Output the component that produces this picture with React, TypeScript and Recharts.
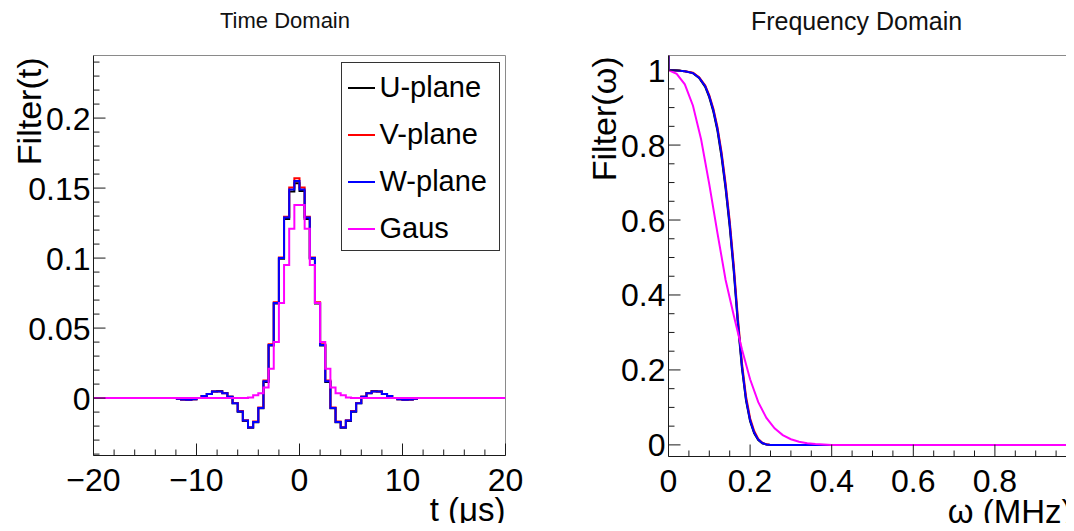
import React from "react";
import { LineChart, Line, XAxis, YAxis, ReferenceLine, Legend } from "recharts";

const FONT = '"Liberation Sans", Arial, Helvetica, sans-serif';

// ---- time domain: 0.5 us bins, value per bin (first bin starts at -12 us)
const tFirstEdge = -12;
const tBinWidth = 0.5;

const uPlaneTime = [
  -0.0005, -0.001, -0.0012, -0.0008, 0.0, 0.0015, 0.003, 0.0048, 0.005, 0.0036,
  0.001, -0.0037, -0.0097, -0.0163, -0.0212, -0.0172, -0.0072, 0.0115, 0.0375, 0.0675,
  0.0995, 0.128, 0.1475, 0.1535, 0.148, 0.128, 0.0995, 0.0675, 0.0375, 0.0115,
  -0.0072, -0.0172, -0.0212, -0.0163, -0.0097, -0.0037, 0.001, 0.0036, 0.005, 0.0048,
  0.003, 0.0015, 0.0, -0.0008, -0.0012, -0.001, -0.0005,
];
const vPlaneTime = [
  -0.0005, -0.001, -0.0012, -0.0008, 0.0, 0.0015, 0.003, 0.0048, 0.0048, 0.0035,
  0.001, -0.0035, -0.0093, -0.0158, -0.0208, -0.0168, -0.0068, 0.0125, 0.0385, 0.0685,
  0.1005, 0.1295, 0.1505, 0.157, 0.1505, 0.1295, 0.1005, 0.0685, 0.0385, 0.0125,
  -0.0068, -0.0168, -0.0208, -0.0158, -0.0093, -0.0035, 0.001, 0.0035, 0.0048, 0.0048,
  0.003, 0.0015, 0.0, -0.0008, -0.0012, -0.001, -0.0005,
];
const wPlaneTime = [
  -0.0005, -0.001, -0.0012, -0.0008, 0.0, 0.0015, 0.003, 0.0048, 0.0048, 0.0035,
  0.001, -0.0036, -0.0095, -0.016, -0.021, -0.017, -0.007, 0.012, 0.038, 0.068,
  0.1, 0.129, 0.149, 0.155, 0.149, 0.129, 0.1, 0.068, 0.038, 0.012,
  -0.007, -0.017, -0.021, -0.016, -0.0095, -0.0036, 0.001, 0.0035, 0.0048, 0.0048,
  0.003, 0.0015, 0.0, -0.0008, -0.0012, -0.001, -0.0005,
];
// gaussian filter, non-zero bins from -5 us to 5 us
const gausFirstEdge = -5;
const gausTime = [
  0.0005, 0.002, 0.0035, 0.0075, 0.021, 0.04, 0.068, 0.095, 0.121, 0.138,
  0.138, 0.121, 0.095, 0.068, 0.04, 0.021, 0.0075, 0.0035, 0.002, 0.0005,
];

const tMajor = [-20, -10, 0, 10, 20];
const tMajorLabels = ["\u221220", "\u221210", "0", "10", "20"];
const tMinor = [-18, -16, -14, -12, -8, -6, -4, -2, 2, 4, 6, 8, 12, 14, 16, 18];
const fTMajor = [0, 0.05, 0.1, 0.15, 0.2];
const fTMajorLabels = ["0", "0.05", "0.1", "0.15", "0.2"];
const fTMinor = [-0.04, -0.03, -0.02, -0.01, 0.01, 0.02, 0.03, 0.04, 0.06, 0.07, 0.08, 0.09,
  0.11, 0.12, 0.13, 0.14, 0.16, 0.17, 0.18, 0.19, 0.21, 0.22, 0.23, 0.24];

// ---- frequency domain
const omegaPlanes = [0, 0, 0.02, 0.04, 0.06, 0.075, 0.09, 0.1, 0.11, 0.12, 0.13, 0.14, 0.15,
  0.16, 0.17, 0.18, 0.19, 0.2, 0.21, 0.22, 0.23, 0.24, 0.25, 1.0];
const uPlaneFreq = [1.039, 1.0, 0.999, 0.997, 0.992, 0.979, 0.955, 0.927, 0.889, 0.838, 0.768, 0.683, 0.582,
  0.462, 0.323, 0.205, 0.118, 0.063, 0.031, 0.013, 0.004, 0.001, 0, 0];
const vPlaneFreq = [1.039, 1.0, 0.999, 0.997, 0.993, 0.981, 0.959, 0.933, 0.897, 0.848, 0.781, 0.697, 0.598,
  0.479, 0.34, 0.219, 0.129, 0.071, 0.037, 0.016, 0.006, 0.0015, 0, 0];
const wPlaneFreq = [1.039, 1.0, 0.999, 0.997, 0.992, 0.98, 0.957, 0.93, 0.893, 0.843, 0.775, 0.69, 0.59,
  0.47, 0.33, 0.21, 0.122, 0.066, 0.033, 0.014, 0.005, 0.001, 0, 0];
const omegaGaus = [0, 0.02, 0.04, 0.06, 0.08, 0.1, 0.12, 0.14, 0.16, 0.18, 0.2, 0.22, 0.24,
  0.26, 0.28, 0.3, 0.32, 0.34, 0.36, 0.38, 0.4, 1.0];
const gausFreq = [1.0, 0.99, 0.962, 0.905, 0.815, 0.695, 0.565, 0.44, 0.345, 0.255, 0.175, 0.114, 0.072,
  0.044, 0.026, 0.015, 0.0085, 0.0045, 0.0022, 0.001, 0, 0];

const wMajor = [0, 0.2, 0.4, 0.6, 0.8, 1];
const wMajorLabels = ["0", "0.2", "0.4", "0.6", "0.8", "1"];
const wMinor = [0.05, 0.1, 0.15, 0.25, 0.3, 0.35, 0.45, 0.5, 0.55, 0.65, 0.7, 0.75, 0.85, 0.9, 0.95];
const fWMajor = [0, 0.2, 0.4, 0.6, 0.8, 1];
const fWMajorLabels = ["0", "0.2", "0.4", "0.6", "0.8", "1"];
const fWMinor = [0.05, 0.1, 0.15, 0.25, 0.3, 0.35, 0.45, 0.5, 0.55, 0.65, 0.7, 0.75, 0.85, 0.9, 0.95];

const seriesNames = ["U-plane", "V-plane", "W-plane", "Gaus"];
const COLORS = { u: "#000000", v: "#ff0000", w: "#0000ff", gaus: "#ff00ff" };

// histogram bins -> stepAfter points (closing point at last right edge)
function histPoints(first: number, width: number, vals: number[]) {
  const pts = vals.map((v, i) => ({ x: first + i * width, y: v }));
  pts.push({ x: first + vals.length * width, y: vals[vals.length - 1] });
  return pts;
}

const uTime = histPoints(tFirstEdge, tBinWidth, uPlaneTime);
const vTime = histPoints(tFirstEdge, tBinWidth, vPlaneTime);
const wTime = histPoints(tFirstEdge, tBinWidth, wPlaneTime);
const gTime = [
  { x: -20, y: 0 },
  ...gausTime.map((v, i) => ({ x: gausFirstEdge + i * tBinWidth, y: v })),
  { x: gausFirstEdge + gausTime.length * tBinWidth, y: 0 },
  { x: 20, y: 0 },
];

const pairs = (xs: number[], ys: number[]) => xs.map((x, i) => ({ x, y: ys[i] }));
const uFreq = pairs(omegaPlanes, uPlaneFreq);
const vFreq = pairs(omegaPlanes, vPlaneFreq);
const wFreq = pairs(omegaPlanes, wPlaneFreq);
const gFreq = pairs(omegaGaus, gausFreq);

const AXIS = "#1a1a1a";
const FRAME = "#8a8a8a";
const X_AXIS_H = 40;
const Y_AXIS_W = 30;
const TICK_FONT = 32;

const majorIndex = (majors: number[], v: number) => majors.findIndex((m) => Math.abs(m - v) < 1e-9);

function xTick(majors: number[], labels: string[]) {
  return (props: any) => {
    const { x, y, payload } = props;
    const idx = majorIndex(majors, payload.value);
    const len = idx >= 0 ? 12 : 6;
    return (
      <g>
        <line x1={x} x2={x} y1={y} y2={y - len} stroke={AXIS} strokeWidth={1} />
        {idx >= 0 && (
          <text x={x} y={y + 35} textAnchor="middle" fontSize={TICK_FONT} fontFamily={FONT} fill="#000">
            {labels[idx]}
          </text>
        )}
      </g>
    );
  };
}

function yTick(majors: number[], labels: string[]) {
  return (props: any) => {
    const { x, y, payload } = props;
    const idx = majorIndex(majors, payload.value);
    const len = idx >= 0 ? 12 : 6;
    return (
      <g>
        <line x1={x} x2={x + len} y1={y} y2={y} stroke={AXIS} strokeWidth={1} />
        {idx >= 0 && (
          <text x={x - 3} y={y} dy="0.36em" textAnchor="end" fontSize={TICK_FONT} fontFamily={FONT} fill="#000">
            {labels[idx]}
          </text>
        )}
      </g>
    );
  };
}

// x title right-aligned with the end of the axis
const xTitle = (text: string, dx: number, dy: number) => (props: any) => {
  const vb = props.viewBox;
  return (
    <text x={vb.x + vb.width + dx} y={vb.y + dy} textAnchor="end" fontSize={33} fontFamily={FONT} fill="#000">
      {text}
    </text>
  );
};

// y title rotated, aligned with the top of the axis
const yTitle = (text: string, dx: number, top: number) => (props: any) => {
  const vb = props.viewBox;
  const x = vb.x + vb.width + dx;
  const y = vb.y + top;
  return (
    <text x={x} y={y} transform={`rotate(-90, ${x}, ${y})`} textAnchor="end" fontSize={34} fontFamily={FONT} fill="#000">
      {text}
    </text>
  );
};

const LegendBox = (props: any) => {
  const items = [...(props.payload || [])].sort(
    (a: any, b: any) => seriesNames.indexOf(a.value) - seriesNames.indexOf(b.value)
  );
  return (
    <div
      style={{
        boxSizing: "border-box",
        width: 159,
        height: 189,
        border: "1px solid #333",
        background: "#fff",
        paddingTop: 1,
        fontFamily: FONT,
      }}
    >
      {items.map((it: any) => (
        <div key={it.value} style={{ position: "relative", height: 47 }}>
          <div style={{ position: "absolute", left: 6, top: 23, width: 27, height: 2, background: it.color }} />
          <div style={{ position: "absolute", left: 38, top: 0, height: 47, lineHeight: "47px", fontSize: 29, color: "#000" }}>
            {it.value}
          </div>
        </div>
      ))}
    </div>
  );
};

function TimeChart() {
  return (
    <LineChart
      width={540}
      height={531}
      margin={{ top: 55.5, right: 34.5, bottom: 75.5 - X_AXIS_H, left: 93.5 - Y_AXIS_W }}
    >
      <XAxis
        type="number"
        dataKey="x"
        domain={[-20, 20]}
        allowDataOverflow
        ticks={[...tMajor, ...tMinor]}
        interval={0}
        height={X_AXIS_H}
        tickSize={0}
        tickMargin={0}
        tickLine={false}
        axisLine={{ stroke: AXIS }}
        tick={xTick(tMajor, tMajorLabels)}
        label={{ content: xTitle("t (\u03bcs)", 0, 65) }}
      />
      <YAxis
        type="number"
        dataKey="y"
        domain={[-0.041, 0.2447]}
        allowDataOverflow
        ticks={[...fTMajor, ...fTMinor]}
        interval={0}
        width={Y_AXIS_W}
        tickSize={0}
        tickMargin={0}
        tickLine={false}
        axisLine={{ stroke: AXIS }}
        tick={yTick(fTMajor, fTMajorLabels)}
        label={{ content: yTitle("Filter(t)", -53, 2) }}
      />
      <ReferenceLine y={0.2447} stroke={FRAME} ifOverflow="visible" />
      <ReferenceLine x={20} stroke={FRAME} ifOverflow="visible" />
      <Line data={uTime} dataKey="y" name="U-plane" type="stepAfter" stroke={COLORS.u} strokeWidth={2} dot={false} isAnimationActive={false} />
      <Line data={vTime} dataKey="y" name="V-plane" type="stepAfter" stroke={COLORS.v} strokeWidth={2} dot={false} isAnimationActive={false} />
      <Line data={wTime} dataKey="y" name="W-plane" type="stepAfter" stroke={COLORS.w} strokeWidth={2} dot={false} isAnimationActive={false} />
      <Line data={gTime} dataKey="y" name="Gaus" type="stepAfter" stroke={COLORS.gaus} strokeWidth={2} dot={false} isAnimationActive={false} />
      <Legend
        layout="vertical"
        align="center"
        verticalAlign="middle"
        wrapperStyle={{ left: 340.5, top: 62, width: 159, height: 189 }}
        content={LegendBox}
      />
    </LineChart>
  );
}

function FreqChart() {
  return (
    <LineChart
      width={540}
      height={531}
      margin={{ top: 55.5, right: 3.5, bottom: 74.5 - X_AXIS_H, left: 128.5 - Y_AXIS_W }}
    >
      <XAxis
        type="number"
        dataKey="x"
        domain={[0, 1]}
        allowDataOverflow
        ticks={[...wMajor, ...wMinor]}
        interval={0}
        height={X_AXIS_H}
        tickSize={0}
        tickMargin={0}
        tickLine={false}
        axisLine={{ stroke: AXIS }}
        tick={xTick(wMajor, wMajorLabels)}
        label={{ content: xTitle("\u03c9 (MHz)", -4, 66) }}
      />
      <YAxis
        type="number"
        dataKey="y"
        domain={[-0.031, 1.039]}
        allowDataOverflow
        ticks={[...fWMajor, ...fWMinor]}
        interval={0}
        width={Y_AXIS_W}
        tickSize={0}
        tickMargin={0}
        tickLine={false}
        axisLine={{ stroke: AXIS }}
        tick={yTick(fWMajor, fWMajorLabels)}
        label={{ content: yTitle("Filter(\u03c9)", -53, 1) }}
      />
      <ReferenceLine y={1.039} stroke={FRAME} ifOverflow="visible" />
      <Line data={uFreq} dataKey="y" name="U-plane" type="linear" stroke={COLORS.u} strokeWidth={2} dot={false} isAnimationActive={false} />
      <Line data={vFreq} dataKey="y" name="V-plane" type="linear" stroke={COLORS.v} strokeWidth={2} dot={false} isAnimationActive={false} />
      <Line data={wFreq} dataKey="y" name="W-plane" type="linear" stroke={COLORS.w} strokeWidth={2} dot={false} isAnimationActive={false} />
      <Line data={gFreq} dataKey="y" name="Gaus" type="linear" stroke={COLORS.gaus} strokeWidth={2} dot={false} isAnimationActive={false} />
    </LineChart>
  );
}

export default function App() {
  return (
    <div style={{ position: "relative", margin: -8, width: 1074, height: 531, overflow: "hidden", background: "#fff" }}>
      <svg width={1074} height={40} style={{ position: "absolute", left: 0, top: 0 }}>
        <text x={285} y={28} textAnchor="middle" fontSize={22} fontFamily={FONT} fill="#111">
          Time Domain
        </text>
        <text x={856.5} y={30} textAnchor="middle" fontSize={25} fontFamily={FONT} fill="#111">
          Frequency Domain
        </text>
      </svg>
      <div style={{ position: "absolute", left: 0, top: 0 }}>
        <TimeChart />
      </div>
      <div style={{ position: "absolute", left: 540, top: 0 }}>
        <FreqChart />
      </div>
    </div>
  );
}
